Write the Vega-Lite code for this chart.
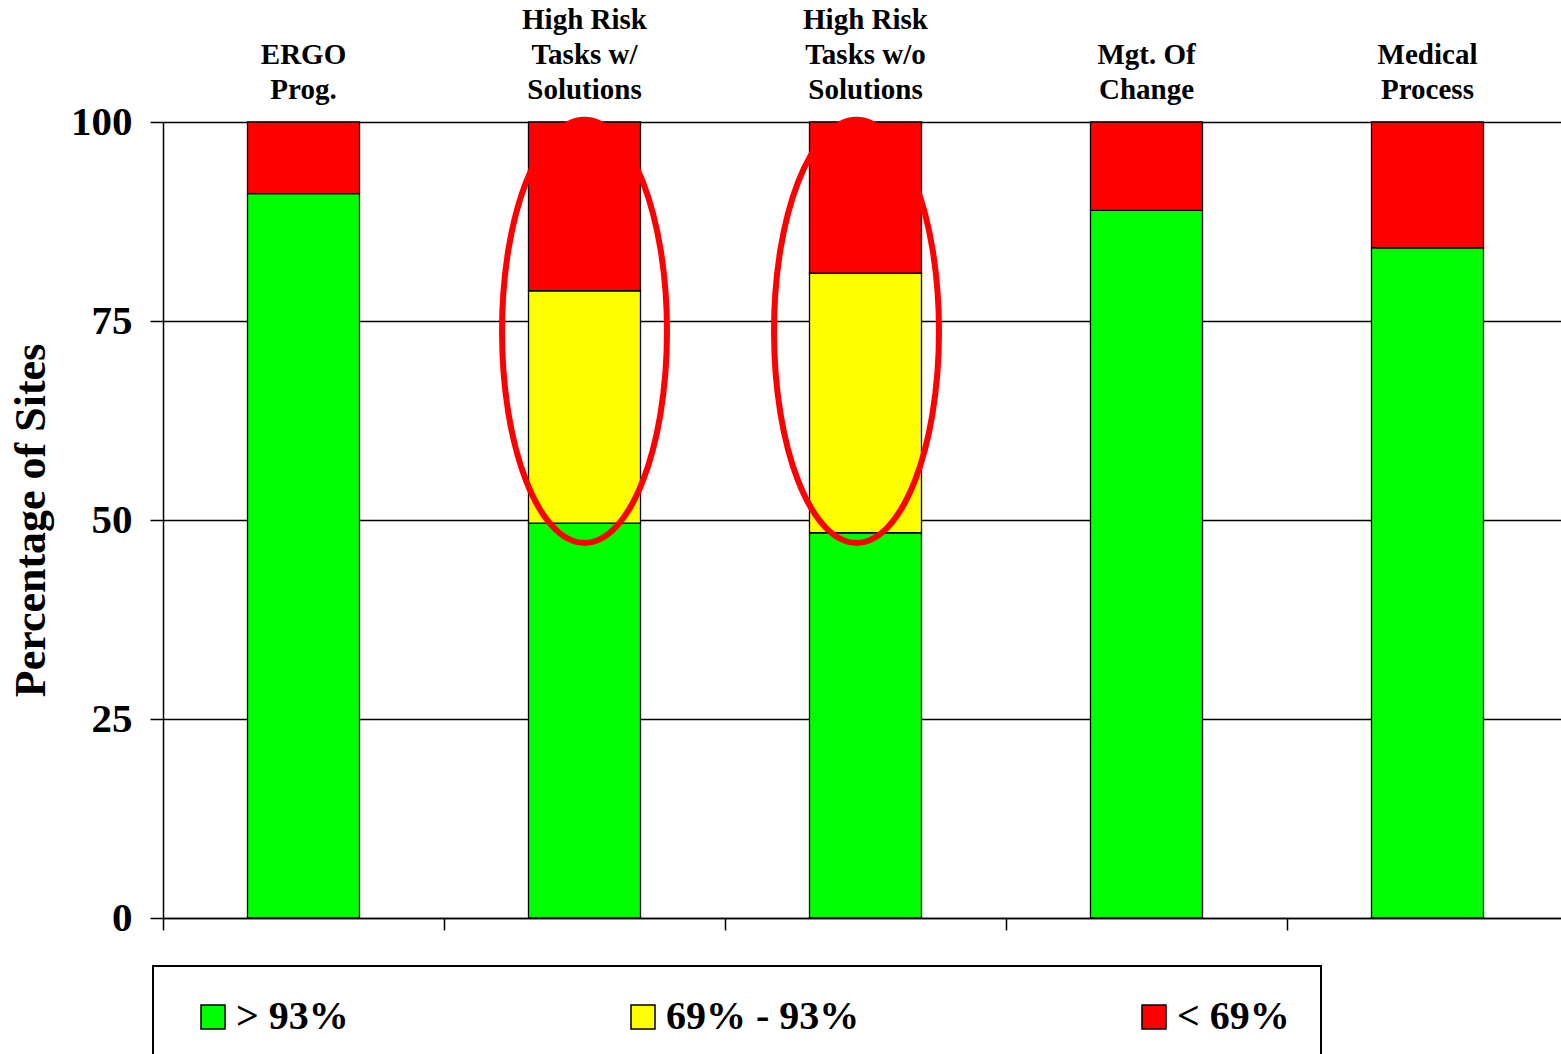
{
  "$schema": "https://vega.github.io/schema/vega-lite/v6.json",
  "width": 1405,
  "height": 796,
  "autosize": {"type": "none"},
  "padding": {"left": 163, "top": 122, "right": 0, "bottom": 136},
  "background": "white",
  "config": {"view": {"stroke": null}, "font": "Liberation Serif", "legend": {"strokeWidth": 2}},
  "datasets": {
    "bars": [
      {"category": "ERGO Prog.", "level": "> 93%", "rank": 1, "percent": 91.0},
      {"category": "ERGO Prog.", "level": "69% - 93%", "rank": 2, "percent": 0},
      {"category": "ERGO Prog.", "level": "< 69%", "rank": 3, "percent": 9.0},
      {"category": "High Risk Tasks w/ Solutions", "level": "> 93%", "rank": 1, "percent": 49.6},
      {"category": "High Risk Tasks w/ Solutions", "level": "69% - 93%", "rank": 2, "percent": 29.2},
      {"category": "High Risk Tasks w/ Solutions", "level": "< 69%", "rank": 3, "percent": 21.2},
      {"category": "High Risk Tasks w/o Solutions", "level": "> 93%", "rank": 1, "percent": 48.4},
      {"category": "High Risk Tasks w/o Solutions", "level": "69% - 93%", "rank": 2, "percent": 32.6},
      {"category": "High Risk Tasks w/o Solutions", "level": "< 69%", "rank": 3, "percent": 19.0},
      {"category": "Mgt. Of Change", "level": "> 93%", "rank": 1, "percent": 88.9},
      {"category": "Mgt. Of Change", "level": "69% - 93%", "rank": 2, "percent": 0},
      {"category": "Mgt. Of Change", "level": "< 69%", "rank": 3, "percent": 11.1},
      {"category": "Medical Process", "level": "> 93%", "rank": 1, "percent": 84.2},
      {"category": "Medical Process", "level": "69% - 93%", "rank": 2, "percent": 0},
      {"category": "Medical Process", "level": "< 69%", "rank": 3, "percent": 15.8}
    ],
    "ellipses": [
      {"category": "High Risk Tasks w/ Solutions", "percent": 73.7},
      {"category": "High Risk Tasks w/o Solutions", "percent": 73.7}
    ]
  },
  "resolve": {"axis": {"x": "independent"}},
  "layer": [
    {
      "data": {"name": "bars"},
      "transform": [{"filter": "datum.percent > 0"}],
      "mark": {"type": "bar", "stroke": "black", "strokeWidth": 1.3, "width": {"band": 0.3986}},
      "encoding": {
        "x": {
          "field": "category",
          "type": "nominal",
          "sort": null,
          "scale": {
            "domain": ["ERGO Prog.", "High Risk Tasks w/ Solutions", "High Risk Tasks w/o Solutions", "Mgt. Of Change", "Medical Process"],
            "paddingInner": 0,
            "paddingOuter": 0
          },
          "axis": {
            "orient": "top",
            "title": null,
            "ticks": false,
            "domain": false,
            "grid": false,
            "labelAngle": 0,
            "labelFont": "Liberation Serif",
            "labelFontSize": 29,
            "labelFontWeight": "bold",
            "labelColor": "black",
            "labelLineHeight": 35,
            "labelPadding": 88,
            "labelLimit": 400,
            "labelExpr": "datum.value == 'ERGO Prog.' ? ['', 'ERGO', 'Prog.'] : datum.value == 'High Risk Tasks w/ Solutions' ? ['High Risk', 'Tasks  w/', 'Solutions'] : datum.value == 'High Risk Tasks w/o Solutions' ? ['High Risk', 'Tasks  w/o', 'Solutions'] : datum.value == 'Mgt. Of Change' ? ['', 'Mgt. Of', 'Change'] : ['', 'Medical', 'Process']"
          }
        },
        "y": {
          "field": "percent",
          "type": "quantitative",
          "stack": "zero",
          "title": "Percentage of Sites",
          "scale": {"domain": [0, 100], "nice": false},
          "axis": {
            "values": [0, 25, 50, 75, 100],
            "grid": true,
            "gridColor": "black",
            "gridWidth": 1.5,
            "gridOpacity": 1,
            "tickSize": 13,
            "tickColor": "black",
            "tickWidth": 1.5,
            "domainColor": "black",
            "domainWidth": 1.5,
            "labelFont": "Liberation Serif",
            "labelFontSize": 41,
            "labelFontWeight": "bold",
            "labelColor": "black",
            "labelPadding": 18,
            "titleFont": "Liberation Serif",
            "titleFontSize": 44,
            "titleFontWeight": "bold",
            "titleColor": "black",
            "titlePadding": 17
          }
        },
        "color": {
          "field": "level",
          "type": "nominal",
          "scale": {"domain": ["> 93%", "69% - 93%", "< 69%"], "range": ["#00FF00", "#FFFF00", "#FF0000"]},
          "legend": {
            "orient": "none",
            "legendX": -10,
            "legendY": 844,
            "direction": "horizontal",
            "title": null,
            "symbolType": "square",
            "symbolSize": 576,
            "symbolStrokeColor": "black",
            "symbolStrokeWidth": 1.5,
            "symbolOpacity": 1,
            "symbolOffset": 9,
            "labelFont": "Liberation Serif",
            "labelFontSize": 40,
            "labelFontWeight": "bold",
            "labelColor": "black",
            "labelOffset": 3,
            "labelLimit": 500,
            "labelExpr": "datum.label == '< 69%' ? datum.label + '\u2003\u2002\u2009\u2009' : datum.label",
            "columnPadding": 265,
            "padding": 31,
            "strokeColor": "black",
            "fillColor": "white"
          }
        },
        "order": {"field": "rank", "type": "quantitative"}
      }
    },
    {
      "data": {"name": "ellipses"},
      "transform": [{"filter": "datum.category == 'High Risk Tasks w/ Solutions'"}],
      "mark": {
        "type": "point",
        "shape": "M0,-1C0.2154,-1 0.39,-0.5523 0.39,0C0.39,0.5523 0.2154,1 0,1C-0.2154,1 -0.39,0.5523 -0.39,0C-0.39,-0.5523 -0.2154,-1 0,-1Z",
        "filled": false,
        "stroke": "#FF0000",
        "strokeWidth": 6,
        "opacity": 1,
        "size": 178929
      },
      "encoding": {
        "x": {
          "field": "category",
          "type": "nominal",
          "sort": null,
          "axis": {
            "orient": "bottom",
            "title": null,
            "labels": false,
            "grid": false,
            "bandPosition": 0,
            "ticks": true,
            "tickSize": 12,
            "tickColor": "black",
            "tickWidth": 1.5,
            "domainColor": "black",
            "domainWidth": 1.5
          }
        },
        "y": {"field": "percent", "type": "quantitative", "title": "Percentage of Sites"}
      }
    },
    {
      "data": {"name": "ellipses"},
      "transform": [{"filter": "datum.category == 'High Risk Tasks w/o Solutions'"}],
      "mark": {
        "type": "point",
        "shape": "M0,-1C0.2154,-1 0.39,-0.5523 0.39,0C0.39,0.5523 0.2154,1 0,1C-0.2154,1 -0.39,0.5523 -0.39,0C-0.39,-0.5523 -0.2154,-1 0,-1Z",
        "filled": false,
        "stroke": "#FF0000",
        "strokeWidth": 6,
        "opacity": 1,
        "size": 178929,
        "xOffset": -9
      },
      "encoding": {
        "x": {"field": "category", "type": "nominal", "sort": null, "axis": null},
        "y": {"field": "percent", "type": "quantitative", "title": "Percentage of Sites"}
      }
    }
  ]
}
